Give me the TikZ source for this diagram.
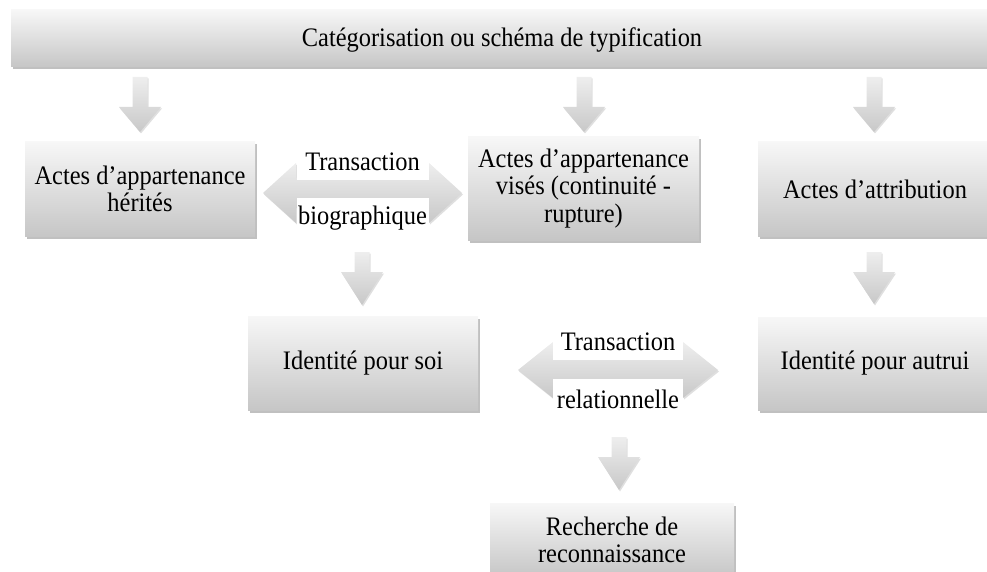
\documentclass[tikz,border=0pt]{standalone}
\usepackage{fontspec}
\setmainfont{Liberation Serif}[FakeStretch=0.915]
\usetikzlibrary{shadows}
\definecolor{boxtop}{RGB}{247,247,247}
\definecolor{boxbot}{RGB}{198,198,198}
\definecolor{arrtop}{RGB}{238,238,238}
\definecolor{arrbot}{RGB}{200,200,200}
\newcommand\dnarrow[4]{%
  \path[arr] (#1-7.5,#2) -- (#1+7.5,#2) -- (#1+7.5,#3) -- (#1+21,#3) -- (#1,#4)
    -- (#1-21,#3) -- (#1-7.5,#3) -- cycle;}
\newcommand\lrarrow[5]{%
  \path[arr] (#1,#3) -- (#1+#4,#3-#5) -- (#1+#4,#3-#5/2) -- (#2-#4,#3-#5/2)
    -- (#2-#4,#3-#5) -- (#2,#3) -- (#2-#4,#3+#5) -- (#2-#4,#3+#5/2)
    -- (#1+#4,#3+#5/2) -- (#1+#4,#3+#5) -- cycle;}
\begin{document}
\begin{tikzpicture}[x=1pt,y=-1pt,
  txt/.style={font=\fontsize{26.7}{27.5}\selectfont, align=center},
  gbox/.style={txt, rectangle, inner sep=0pt, top color=boxtop, bottom color=boxbot,
    drop shadow={shadow xshift=1.5pt, shadow yshift=-2.5pt, opacity=0.45, fill=black!55}},
  arr/.style={top color=arrtop, bottom color=arrbot,
    drop shadow={shadow xshift=1pt, shadow yshift=-1.5pt, opacity=0.25, fill=black!50}},
  lbl/.style={txt, fill=white, inner sep=0pt}]
\useasboundingbox (0,0) rectangle (987,572);
% boxes
\node[gbox, minimum width=984, minimum height=57] (top) at (503,38.5) {};
\node[txt] (toptxt) at (502,40) {Catégorisation ou schéma de typification};
\node[gbox, minimum width=230, minimum height=94] (A) at (140,189) {Actes d’appartenance\\hérités};
\node[gbox, minimum width=231, minimum height=103] (B) at (583.5,188.5) {Actes d’appartenance\\visés (continuité -\\rupture)};
\node[gbox, minimum width=234, minimum height=94] (C) at (875,189) {Actes d’attribution};
\node[gbox, minimum width=230, minimum height=94] (D) at (363,363) {Identité pour soi};
\node[gbox, minimum width=234, minimum height=93] (E) at (875,363.5) {Identité pour autrui};
\node[gbox, minimum width=244, minimum height=74] (F) at (612,540) {Recherche de\\reconnaissance};
% down arrows
\dnarrow{140}{77}{107}{132}
\dnarrow{584}{77}{107}{132}
\dnarrow{874}{77}{107}{132}
\dnarrow{362}{252}{272}{305}
\dnarrow{874}{252}{272}{304}
\dnarrow{619}{437}{457}{490}
% double arrows
\lrarrow{263}{462}{193}{33}{30}
\lrarrow{518}{718}{370}{35}{28}
% labels
\node[lbl, minimum width=132, minimum height=36] (t1) at (362.5,162) {Transaction};
\node[lbl, minimum width=132, minimum height=40] (b1) at (362.5,218) {biographique};
\node[lbl, minimum width=130, minimum height=36] (t2) at (618,342) {Transaction};
\node[lbl, minimum width=130, minimum height=40] (r2) at (618,399) {relationnelle};
\end{tikzpicture}
\end{document}
